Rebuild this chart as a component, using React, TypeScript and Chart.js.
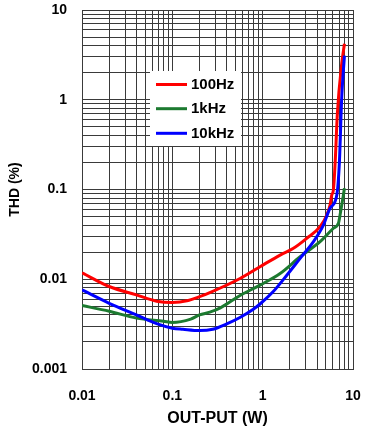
import React, { useEffect, useRef } from 'react';
import { Chart, registerables } from 'chart.js';

Chart.register(...registerables);

const SERIES_LABELS = ['100Hz', '1kHz', '10kHz'];
const SERIES_COLORS = ['#ff0000', '#1c7a30', '#0000ff'];

const X_100HZ = [0.01, 0.02, 0.04, 0.067, 0.1, 0.15, 0.2, 0.26, 0.562, 0.935, 1.56, 2.19, 3.08, 4.32, 5.13, 5.57, 5.82, 6.07, 6.34, 6.72, 7.51, 8.04];
const Y_100HZ = [0.0118, 0.0083, 0.0067, 0.0057, 0.0055, 0.0058, 0.0064, 0.0071, 0.0102, 0.0138, 0.0186, 0.0221, 0.0286, 0.0385, 0.052, 0.067, 0.087, 0.099, 0.196, 0.71, 2.55, 4.2];

const X_1KHZ = [0.01, 0.02, 0.04, 0.08, 0.1, 0.16, 0.2, 0.26, 0.34, 0.562, 0.935, 1.56, 2.6, 4.32, 6.07, 6.89, 7.19, 7.83, 8.04];
const Y_1KHZ = [0.0051, 0.0044, 0.0037, 0.0034, 0.0033, 0.0036, 0.004, 0.0043, 0.0048, 0.0066, 0.0086, 0.0116, 0.0178, 0.0262, 0.037, 0.042, 0.052, 0.087, 0.103];

const X_10KHZ = [0.01, 0.02, 0.04, 0.067, 0.1, 0.131, 0.2, 0.28, 0.4, 0.56, 0.78, 0.935, 1.31, 1.85, 2.6, 3.65, 4.7, 5.57, 6.62, 7.06, 7.51, 8.04];
const Y_10KHZ = [0.0076, 0.0054, 0.004, 0.0032, 0.00285, 0.00277, 0.00268, 0.00277, 0.00318, 0.00375, 0.0046, 0.0053, 0.0073, 0.0111, 0.0171, 0.0262, 0.04, 0.062, 0.087, 0.196, 1.08, 3.1];

const X_TICK_LABELS = ['0.01', '0.1', '1', '10'];
const Y_TICK_LABELS = ['0.001', '0.01', '0.1', '1', '10'];
const X_TITLE = 'OUT-PUT (W)';
const Y_TITLE = 'THD (%)';

const FONT = '"Liberation Sans", Arial, sans-serif';

function gridValues(labels: string[]): number[] {
  const majors = labels.map(Number);
  const out: number[] = [];
  for (let i = 0; i < majors.length - 1; i++) {
    for (let k = 1; k <= 9; k++) out.push(parseFloat((majors[i] * k).toPrecision(6)));
  }
  out.push(majors[majors.length - 1]);
  return out;
}

function labelFor(v: number, labels: string[]) {
  const l = labels.find((s) => Math.abs(Number(s) - v) / Number(s) < 1e-6);
  return l === undefined ? '' : l;
}

const legendPlugin = {
  id: 'boxLegend',
  beforeDatasetsDraw(chart: any) {
    const ctx = chart.ctx;
    ctx.save();
    ctx.fillStyle = '#ffffff';
    ctx.fillRect(150, 71, 91, 75);
    const rowY = [84.5, 108.7, 133.3];
    chart.data.datasets.forEach((ds: any, i: number) => {
      ctx.strokeStyle = ds.borderColor;
      ctx.lineWidth = 3;
      ctx.beginPath();
      ctx.moveTo(156, rowY[i]);
      ctx.lineTo(187, rowY[i]);
      ctx.stroke();
      ctx.fillStyle = '#000';
      ctx.font = `bold 15px ${FONT}`;
      ctx.textBaseline = 'middle';
      ctx.textAlign = 'left';
      ctx.fillText(ds.label, 191, rowY[i] + 0.5);
    });
    ctx.restore();
  },
};

export default function App() {
  const ref = useRef<HTMLCanvasElement | null>(null);
  useEffect(() => {
    document.body.style.margin = '0';
    const canvas = ref.current;
    if (!canvas) return;
    const xs = [X_100HZ, X_1KHZ, X_10KHZ];
    const ys = [Y_100HZ, Y_1KHZ, Y_10KHZ];
    const xGrid = gridValues(X_TICK_LABELS);
    const yGrid = gridValues(Y_TICK_LABELS);
    const chart = new Chart(canvas, {
      type: 'line',
      data: {
        datasets: SERIES_LABELS.map((label, i) => ({
          label,
          data: xs[i].map((x, j) => ({ x, y: ys[i][j] })),
          borderColor: SERIES_COLORS[i],
          backgroundColor: SERIES_COLORS[i],
          borderWidth: 3,
          pointRadius: 0,
          fill: false,
          cubicInterpolationMode: 'monotone' as const,
          order: 2 - i,
        })),
      },
      options: {
        responsive: false,
        animation: false,
        devicePixelRatio: 1,
        layout: { padding: { left: 0, right: 14, top: 10, bottom: 0 } },
        plugins: { legend: { display: false }, tooltip: { enabled: false } },
        scales: {
          x: {
            type: 'logarithmic',
            min: Number(X_TICK_LABELS[0]),
            max: Number(X_TICK_LABELS[X_TICK_LABELS.length - 1]),
            afterBuildTicks: (scale: any) => {
              scale.ticks = xGrid.map((v) => ({ value: v }));
            },
            afterFit: (scale: any) => {
              scale.height = 62;
              scale.paddingLeft = 0;
              scale.paddingRight = 0;
            },
            ticks: {
              autoSkip: false,
              maxRotation: 0,
              padding: 19,
              color: '#000',
              font: { family: FONT, size: 14, weight: 'bold' },
              callback: (v: any) => labelFor(Number(v), X_TICK_LABELS),
            },
            grid: { color: '#3a3a3a', lineWidth: 1, drawTicks: false },
            border: { color: '#3a3a3a', width: 1 },
            title: {
              display: true,
              text: X_TITLE,
              color: '#000',
              font: { family: FONT, size: 16, weight: 'bold' },
              padding: { top: 0, bottom: 3 },
            },
          },
          y: {
            type: 'logarithmic',
            min: Number(Y_TICK_LABELS[0]),
            max: Number(Y_TICK_LABELS[Y_TICK_LABELS.length - 1]),
            afterBuildTicks: (scale: any) => {
              scale.ticks = yGrid.map((v) => ({ value: v }));
            },
            afterFit: (scale: any) => {
              scale.width = 82;
              scale.paddingTop = 0;
              scale.paddingBottom = 0;
            },
            ticks: {
              autoSkip: false,
              padding: 15,
              color: '#000',
              font: { family: FONT, size: 14, weight: 'bold' },
              callback: (v: any) => labelFor(Number(v), Y_TICK_LABELS),
            },
            grid: { color: '#3a3a3a', lineWidth: 1, drawTicks: false },
            border: { color: '#3a3a3a', width: 1 },
            title: {
              display: true,
              text: Y_TITLE,
              color: '#000',
              font: { family: FONT, size: 14, weight: 'bold' },
              padding: { top: 6.5, bottom: 0 },
            },
          },
        },
      },
      plugins: [legendPlugin],
    });
    return () => chart.destroy();
  }, []);
  return <canvas ref={ref} width={367} height={431} style={{ display: 'block' }} />;
}
